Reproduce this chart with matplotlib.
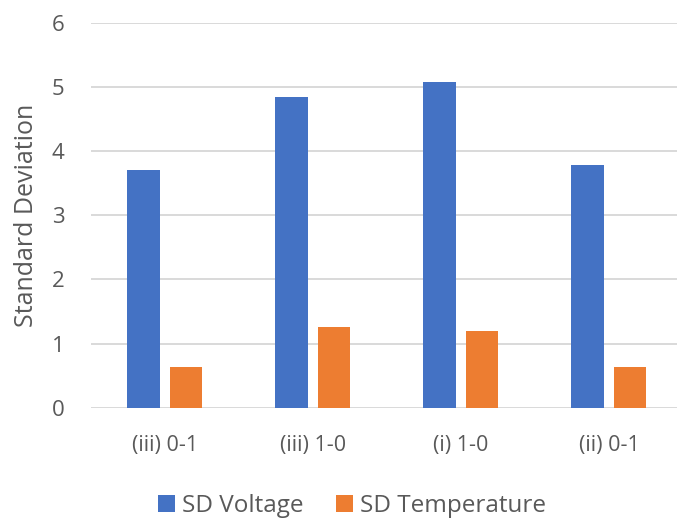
import matplotlib.pyplot as plt
import numpy as np

categories = ["(iii) 0-1", "(iii) 1-0", "(i) 1-0", "(ii) 0-1"]
sd_voltage = [3.71, 4.85, 5.07, 3.78]
sd_temperature = [0.64, 1.26, 1.19, 0.64]

blue = "#4472C4"
orange = "#ED7D31"
grey_text = "#595959"

plt.rcParams['font.family'] = ['Open Sans', 'DejaVu Sans']

fig = plt.figure(figsize=(6.77, 5.21), dpi=100)
ax = fig.add_axes([0.134, 0.2175, 0.866, 0.7389])

x = np.arange(len(categories))
w = 0.221
off = 0.143
ax.bar(x - off, sd_voltage, w, color=blue, label="SD Voltage", zorder=3)
ax.bar(x + off, sd_temperature, w, color=orange, label="SD Temperature", zorder=3)

ax.set_xlim(-0.5, 3.46)
ax.set_ylim(0, 6)
ax.set_yticks(range(7))
ax.yaxis.grid(True, color="#D9D9D9", linewidth=1.4, zorder=0)
for s in ax.spines.values():
    s.set_visible(False)
ax.tick_params(axis="y", length=0, pad=19, labelsize=16, labelcolor=grey_text)
ax.tick_params(axis="x", length=0, pad=20, labelsize=15.5, labelcolor=grey_text)
ax.set_xticks(x)
ax.set_xticklabels(categories)
ax.set_ylabel("Standard Deviation", fontsize=18, color=grey_text, labelpad=9)

fig.legend(loc="center", bbox_to_anchor=(352 / 677, 1 - 506 / 521), ncol=2,
           frameon=False, fontsize=17.5, labelcolor=grey_text,
           handlelength=0.7, handleheight=0.7, handletextpad=0.3, columnspacing=1.3)

fig.savefig("out.png", dpi=100)
